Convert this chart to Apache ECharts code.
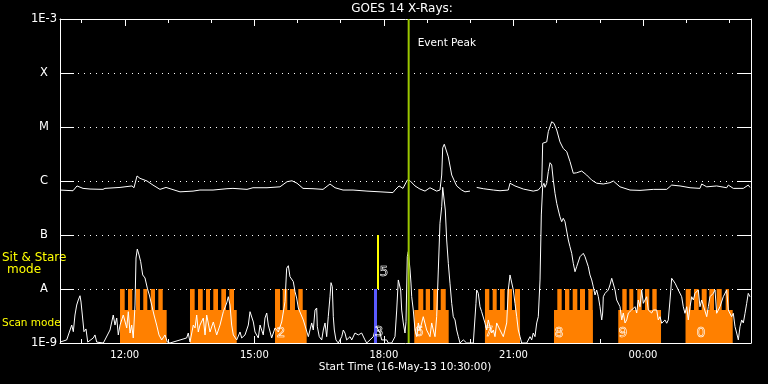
<!DOCTYPE html>
<html><head><meta charset="utf-8">
<script src="https://cdn.jsdelivr.net/npm/echarts@6/dist/echarts.min.js"></script>
<style>html,body{margin:0;padding:0;background:#000;}#c{width:768px;height:384px;}</style>
</head><body><div id="c"></div>
<script>
// Time is in minutes after 00:00 on 16-May-13
const startTime = 630;   // 10:30
const endTime = 1590;    // 02:30 next day
const xMajorTicks = [720, 900, 1080, 1260, 1440];
const xMajorLabels = ['12:00', '15:00', '18:00', '21:00', '00:00'];
const xMinorTicks = [660, 720, 780, 840, 900, 960, 1020, 1080, 1140, 1200, 1260, 1320, 1380, 1440, 1500, 1560];
const yTickLabels = ['1E-9', 'A', 'B', 'C', 'M', 'X', '1E-3'];
const yMin = 1e-9, yMax = 1e-3;

// 1-8 A channel (W/m^2)
const longChannel = [[630,6.8e-7],[648.1,6.6e-7],[653.6,8.1e-7],[662,7.3e-7],[671.7,7.1e-7],[689.7,7.0e-7],[692.5,7.3e-7],[713.4,7.6e-7],[730,8.1e-7],[732.8,7.5e-7],[737,1.24e-6],[741.1,1.12e-6],[750.9,1.0e-6],[759.2,8.4e-7],[768.9,7.0e-7],[777.3,7.6e-7],[780,7.0e-7],[796.7,6.3e-7],[814.8,6.5e-7],[824.5,6.8e-7],[842.6,6.8e-7],[862,7.2e-7],[870.3,7.3e-7],[889.8,7.0e-7],[898.1,7.5e-7],[917.6,7.5e-7],[935.6,7.8e-7],[945.4,9.7e-7],[952.3,1.01e-6],[959.3,9.1e-7],[967.6,7.3e-7],[981.5,7.2e-7],[995.4,7.0e-7],[1005.1,8.8e-7],[1012.1,7.5e-7],[1023.2,6.8e-7],[1037.1,6.8e-7],[1056.5,6.5e-7],[1074.6,6.3e-7],[1092.6,6.1e-7],[1095.4,6.8e-7],[1101,8.1e-7],[1106.5,7.3e-7],[1112.5,1.04e-6],[1116.3,1.01e-6],[1123.2,8.1e-7],[1130.1,7.1e-7],[1137.1,6.5e-7],[1144,7.5e-7],[1153.3,6.5e-7],[1157.9,6.8e-7],[1160.3,1.29e-6],[1161.7,4.1e-6],[1163.9,4.8e-6],[1169.5,2.8e-6],[1174.2,1.29e-6],[1181.1,8.1e-7],[1188.1,6.8e-7],[1192.6,6.3e-7],[1199.6,6.5e-7],[1204,null],[1208.9,7.6e-7],[1218.1,7.2e-7],[1232,6.8e-7],[1241.3,6.6e-7],[1252.8,6.8e-7],[1255.2,9.1e-7],[1262.1,8.1e-7],[1273.7,7.1e-7],[1287.5,6.5e-7],[1294.5,6.8e-7],[1299.2,8.1e-7],[1300.6,5.0e-6],[1306.2,5.3e-6],[1308.4,8.2e-6],[1313.1,1.25e-5],[1316.3,1.17e-5],[1320.1,8.8e-6],[1324.6,5.3e-6],[1329.2,4.0e-6],[1334,3.5e-6],[1338.5,2.3e-6],[1343.1,1.39e-6],[1347.8,1.42e-6],[1354.8,1.53e-6],[1361.7,1.29e-6],[1368.7,1.04e-6],[1375.6,9.1e-7],[1384.8,8.8e-7],[1394.1,9.3e-7],[1398.7,1.0e-6],[1408,7.8e-7],[1421.9,6.8e-7],[1435.8,6.7e-7],[1454.3,7.0e-7],[1472.9,7.0e-7],[1479.8,8.4e-7],[1491.4,8.1e-7],[1505.3,7.5e-7],[1519.1,7.3e-7],[1521.5,8.8e-7],[1528.5,7.8e-7],[1542.3,8.1e-7],[1556.2,7.5e-7],[1558.5,8.4e-7],[1565.4,7.3e-7],[1579.3,7.3e-7],[1586.2,8.4e-7],[1588.6,7.6e-7]];

// 0.5-4 A channel (W/m^2)
const shortChannel = [[630,1.04e-9],[639.3,1.14e-9],[646.3,2.15e-9],[648.5,1.62e-9],[650.8,3.3e-9],[653.2,5.05e-9],[655.4,6.26e-9],[657.8,7.5e-9],[659.2,5.74e-9],[661,3.3e-9],[663.3,1.62e-9],[666.1,1.82e-9],[668.5,1.04e-9],[676.3,1.24e-9],[678.6,1.41e-9],[681,1.04e-9],[690.2,1e-9],[699.5,1.74e-9],[704,3.3e-9],[706.4,2.15e-9],[708.8,2.9e-9],[711,1.41e-9],[713.4,2.15e-9],[717.9,3.3e-9],[722.7,1.9e-9],[724.9,3.8e-9],[727.3,1.53e-9],[729.6,2.15e-9],[731.8,1.24e-9],[734.2,5.05e-9],[735.6,3.75e-8],[737.4,5.5e-8],[739.8,4.26e-8],[742.1,3.2e-8],[744.9,1.82e-8],[748.1,1.6e-8],[751.3,1.04e-8],[754.1,7.74e-9],[757.4,5.05e-9],[760.6,3.3e-9],[764.3,2.15e-9],[767.5,1.41e-9],[771.3,1.14e-9],[775.9,1.41e-9],[779.1,1.04e-9],[782.8,1e-9],[806,1.24e-9],[808.2,1.53e-9],[810.6,1.04e-9],[815.2,2.15e-9],[817.6,1.9e-9],[819.9,3.3e-9],[822.1,1.6e-9],[824.5,2.15e-9],[829.1,2.9e-9],[831.5,1.41e-9],[833.8,3.3e-9],[838.4,1.6e-9],[843,2.45e-9],[847.7,1.41e-9],[852.3,2.15e-9],[856.9,3.8e-9],[861.6,5.5e-9],[863.8,7.2e-9],[866.2,5.05e-9],[868.5,2.15e-9],[870.8,1.41e-9],[875.5,1.14e-9],[880.1,1.6e-9],[882.4,1.24e-9],[887,1.41e-9],[891.6,2.15e-9],[894,3.8e-9],[896.3,3.91e-9],[898.6,2.45e-9],[900.9,1.6e-9],[905.5,1.24e-9],[907.9,2.15e-9],[912.4,1.41e-9],[914.8,2.9e-9],[917.2,3.59e-9],[919.4,2.15e-9],[924.1,1.24e-9],[928.7,1.9e-9],[933.3,1.6e-9],[938,2.45e-9],[942.6,5.82e-9],[944.9,2.42e-8],[947.2,2.7e-8],[949.5,1.69e-8],[954.1,1.37e-8],[956.5,8.91e-9],[958.8,6.81e-9],[961.1,4.45e-9],[963.4,3.75e-9],[968,2.67e-9],[975,1.31e-9],[977.3,1.74e-9],[979.7,2.35e-9],[981.9,1.74e-9],[984.3,4.08e-9],[986.6,4.45e-9],[987.5,2e-9],[990.2,1.31e-9],[993.6,1.14e-9],[995.8,1.74e-9],[998.2,2.35e-9],[1000.5,1.31e-9],[1002.7,3.07e-9],[1005.1,7.2e-9],[1006.5,1.31e-8],[1008.3,1.1e-8],[1009.7,3.07e-9],[1011.1,1.74e-9],[1013.4,1.14e-9],[1016.6,1e-9],[1021.4,1.31e-9],[1023.6,1.74e-9],[1025.9,1.53e-9],[1028.3,1.14e-9],[1032.9,1.31e-9],[1035.3,1.14e-9],[1039.8,1.53e-9],[1044.4,1.41e-9],[1046.8,1.31e-9],[1049.1,1.53e-9],[1053.7,1.14e-9],[1056.1,1e-9],[1060.7,1.14e-9],[1065.3,1.31e-9],[1067.6,1.74e-9],[1070,2e-9],[1072.2,1.74e-9],[1074.6,1.53e-9],[1076.9,1.14e-9],[1079.2,1.06e-9],[1083.9,1.14e-9],[1086.1,1e-9],[1090.8,1e-9],[1095.4,1.31e-9],[1097.8,4.08e-9],[1100,1.47e-8],[1101.4,1.51e-8],[1103.3,9.58e-9],[1104.7,4.08e-9],[1106.9,2.35e-9],[1109.3,1.53e-9],[1110.7,2.48e-9],[1112.5,3.96e-8],[1113.9,4.91e-8],[1116.3,2.25e-8],[1117.6,1.29e-8],[1118.6,7.2e-9],[1120.8,4.08e-9],[1123.2,1.74e-9],[1125.6,1.31e-9],[1127.8,2.35e-9],[1130.1,1.74e-9],[1134.7,3.07e-9],[1139.4,1.74e-9],[1144,1.31e-9],[1146.4,2.35e-9],[1148.6,1.74e-9],[1151,1.31e-9],[1153.3,3.07e-9],[1155.6,2.25e-8],[1157.9,1.65e-7],[1160.3,3.34e-7],[1161.7,7.64e-7],[1163.5,7.84e-7],[1165.3,2.9e-7],[1167.2,8.08e-8],[1169.5,2.99e-8],[1171.8,1.28e-8],[1174.2,5.43e-9],[1176.4,3.07e-9],[1178.8,2.67e-9],[1181.1,1.74e-9],[1183.4,1.31e-9],[1185.7,1e-9],[1190.3,1.14e-9],[1192.6,1.24e-9],[1195,1e-9],[1204.2,1e-9],[1207.9,5.43e-9],[1208.9,9.58e-9],[1211.1,8.32e-9],[1213.5,4.7e-9],[1215.8,3.8e-9],[1218.1,3.59e-9],[1220.4,2.35e-9],[1222.8,1.74e-9],[1225,2.67e-9],[1227.4,2e-9],[1229.8,1.53e-9],[1232,1.74e-9],[1234.3,1.31e-9],[1236.7,2.35e-9],[1241.3,1.74e-9],[1245.9,1.31e-9],[1250.6,2.35e-9],[1252.8,9.58e-9],[1255.2,1.82e-8],[1257.5,1.69e-8],[1259.8,9.58e-9],[1262.1,5.43e-9],[1264.5,3.07e-9],[1266.7,1.74e-9],[1269.1,1.31e-9],[1271.4,1e-9],[1278.4,1e-9],[1283,1.31e-9],[1285.3,1.14e-9],[1287.5,1.53e-9],[1289.9,1.31e-9],[1292.3,2.35e-9],[1294.5,3.07e-9],[1296.9,1.47e-8],[1298.7,2.35e-7],[1300.6,8.08e-7],[1302.4,9.07e-7],[1303.8,7.64e-7],[1306.2,9.07e-7],[1308.4,1.49e-6],[1310.8,2.18e-6],[1313.1,1.98e-6],[1315.3,1.04e-6],[1317.7,5.92e-7],[1320.1,3.86e-7],[1322.3,2.9e-7],[1324.6,2.18e-7],[1327,1.76e-7],[1329.2,2.04e-7],[1331.6,1.76e-7],[1333.9,1.65e-7],[1336.2,8.08e-8],[1338.5,6.07e-8],[1340.9,4.58e-8],[1343.1,2.99e-8],[1345.5,2.09e-8],[1347.8,2.59e-8],[1352.4,3.96e-8],[1357,4.58e-8],[1359.4,3.96e-8],[1364,2.59e-8],[1366.3,1.82e-8],[1368.7,1.47e-8],[1370.9,1.1e-8],[1373.3,7.74e-9],[1375.6,9.58e-9],[1377.9,7.2e-9],[1380.2,4.7e-9],[1382.6,2.67e-9],[1383.9,3.59e-9],[1384.8,7.2e-9],[1387.2,8.32e-9],[1391.7,9.58e-9],[1394.1,1.19e-8],[1396.5,1.58e-8],[1398.7,1.47e-8],[1401.1,9.58e-9],[1403.4,6.26e-9],[1408,4.7e-9],[1410.4,2.67e-9],[1412.6,3.59e-9],[1415,2.35e-9],[1417.3,2.67e-9],[1419.6,3.59e-9],[1424.2,4.08e-9],[1428.8,4.7e-9],[1431.2,3.59e-9],[1433.4,6.26e-9],[1435.8,4.7e-9],[1438.1,9.58e-9],[1440.4,5.43e-9],[1445.1,7.2e-9],[1447.3,4.08e-9],[1449.7,3.8e-9],[1452,3.59e-9],[1454.3,4.08e-9],[1459,4.08e-9],[1461.2,2.67e-9],[1463.6,3.07e-9],[1465.9,2.32e-9],[1470.5,2.67e-9],[1472.9,2.32e-9],[1475.1,2.67e-9],[1477.5,6.26e-9],[1479.8,1.58e-8],[1482.1,1.51e-8],[1484.5,1.28e-8],[1486.8,1.28e-8],[1489,9.58e-9],[1493.7,7.2e-9],[1495.9,4.7e-9],[1498.3,3.55e-9],[1500.7,4.7e-9],[1502.9,2.67e-9],[1505.3,4.7e-9],[1507.6,7.2e-9],[1509.9,6.26e-9],[1512.2,8.32e-9],[1516.8,9.58e-9],[1519.1,4.7e-9],[1521.5,6.26e-9],[1528.5,3.07e-9],[1530.7,4.7e-9],[1533,7.2e-9],[1537.6,8.32e-9],[1540,9.58e-9],[1542.3,3.55e-9],[1546.9,4.7e-9],[1551.5,7.2e-9],[1556.2,9.58e-9],[1558.5,4.08e-9],[1563.1,3.07e-9],[1565.4,3.55e-9],[1567.8,2e-9],[1570.1,1.53e-9],[1572.4,1.14e-9],[1574.7,2e-9],[1577.1,2.67e-9],[1579.3,2.35e-9],[1581.7,3.55e-9],[1584,5.43e-9],[1586.2,8.32e-9],[1588.6,7.2e-9]];

// Scan-mode periods: [start, end]
const scanBlocks = [[713.4,778.2],[810.6,875.5],[928.7,972.7],[1122.2,1170.0],[1220.4,1269.1],[1316.3,1370.1],[1405.6,1465.0],[1499.3,1564.6]];
const scanTeeth = [[713.4,719.9],[724.5,730.4],[735.6,741.1],[745.7,751.3],[756.0,762.0],[766.6,772.7],
  [810.6,817.1],[821.7,828.3],[832.8,838.4],[843.0,849.5],[854.1,860.6],[865.2,871.7],
  [928.7,935.7],[939.4,945.8],[949.5,956.5],[961.1,967.2],
  [1127.8,1134.7],[1138.1,1144.0],[1148.6,1155.2],[1158.9,1165.9],
  [1220.4,1226.4],[1231.1,1236.7],[1241.3,1247.8],[1251.4,1258.0],[1262.1,1269.1],
  [1320.9,1327.0],[1331.6,1337.6],[1342.3,1348.7],[1352.4,1359.4],[1364.0,1370.1],
  [1411.2,1417.3],[1420.9,1426.5],[1432.0,1438.1],[1442.7,1448.7],[1452.9,1459.0],
  [1499.3,1506.2],[1510.8,1517.3],[1521.5,1528.4],[1532.1,1538.6],[1542.3,1549.3],[1554.8,1559.4]];
const scanBaseLevel = 4.1e-9;
const scanTopLevel = 1e-8;
// Sit & stare indicator bars: [start, end, low, high]
const scanModeBar = [[1066.2, 1070.4, 1e-9, 1e-8]];
const stareModeBar = [[1070.4, 1073.2, 1e-8, 1e-7]];
// Numbers drawn at the blocks: [text, time, level]
const blockNumbers = [['2',937.0,1.53e-9],['3',1073.2,1.6e-9],['5',1080.1,2.07e-8],['6',1128.8,1.6e-9],['7',1226.0,1.6e-9],['8',1323.3,1.53e-9],['9',1412.2,1.53e-9],['0',1520.5,1.53e-9]];
const eventPeakTime = 1114.4;

const FONT = 'DejaVu Sans';
const ORANGE = '#ff8000';

const chart = echarts.init(document.getElementById('c'), null, {renderer: 'canvas'});

function rectRender(color) {
  return function (params, api) {
    const p0 = api.coord([api.value(0), api.value(3)]);
    const p1 = api.coord([api.value(1), api.value(2)]);
    return {type: 'rect', shape: {x: p0[0], y: p0[1], width: p1[0] - p0[0], height: p1[1] - p0[1]},
      style: {fill: color}};
  };
}

const tickAxis = (pos, ticks, len, showLine, labels) => ({
  type: 'value', position: pos, min: startTime, max: endTime,
  axisLine: {show: showLine, onZero: false, lineStyle: {color: '#fff', width: 1}},
  axisTick: {show: true, inside: true, length: len, customValues: ticks, lineStyle: {color: '#fff', width: 1}},
  axisLabel: labels ? {show: true, customValues: xMajorTicks, color: '#fff', fontFamily: FONT, fontSize: 10, margin: 7,
    formatter: v => xMajorLabels[xMajorTicks.indexOf(Math.round(v))] || ''} : {show: false},
  splitLine: {show: false}
});

const yAxisBase = (pos, labels) => ({
  type: 'log', logBase: 10, min: yMin, max: yMax, position: pos,
  axisLine: {show: true, lineStyle: {color: '#fff', width: 1}},
  axisTick: {show: true, inside: true, length: 14, lineStyle: {color: '#fff', width: 1}},
  axisLabel: labels ? {show: true, color: '#fff', fontFamily: FONT, fontSize: 11.5, align: 'center', margin: 16,
    formatter: v => yTickLabels[Math.round(Math.log10(v)) + 9]} : {show: false},
  splitLine: {show: labels, lineStyle: {color: '#fff', width: 1, type: [1, 5]}},
  minorTick: {show: false}
});

chart.setOption({
  backgroundColor: '#000',
  animation: false,
  grid: {left: 60, right: 17, top: 19, bottom: 41, containLabel: false},
  xAxis: [
    tickAxis('bottom', xMajorTicks, 7, true, true),
    tickAxis('bottom', xMinorTicks, 4, false, false),
    tickAxis('top', xMajorTicks, 7, true, false),
    tickAxis('top', xMinorTicks, 4, false, false)
  ],
  yAxis: [yAxisBase('left', true), yAxisBase('right', false)],
  graphic: [
    {type: 'text', x: 402, y: 3, style: {text: 'GOES 14 X-Rays:', fill: '#fff', font: '12px ' + FONT, align: 'center', verticalAlign: 'top'}},
    {type: 'text', x: 405, y: 362, style: {text: 'Start Time (16-May-13 10:30:00)', fill: '#fff', font: '10.5px ' + FONT, align: 'center', verticalAlign: 'top'}},
    {type: 'text', x: 2, y: 252, style: {text: 'Sit & Stare', fill: '#ffff00', font: '12px ' + FONT, align: 'left', verticalAlign: 'top'}},
    {type: 'text', x: 24, y: 264, style: {text: 'mode', fill: '#ffff00', font: '12px ' + FONT, align: 'center', verticalAlign: 'top'}},
    {type: 'text', x: 2, y: 318, style: {text: 'Scan mode', fill: '#ffff00', font: '10.5px ' + FONT, align: 'left', verticalAlign: 'top'}}
  ],
  series: [
    {type: 'custom', name: 'scanBase', renderItem: rectRender(ORANGE), z: 1, silent: true,
      encode: {x: [0, 1], y: [2, 3]},
      data: scanBlocks.map(b => [b[0], b[1], yMin, scanBaseLevel])},
    {type: 'custom', name: 'scanTeeth', renderItem: rectRender(ORANGE), z: 1, silent: true,
      encode: {x: [0, 1], y: [2, 3]},
      data: scanTeeth.map(b => [b[0], b[1], yMin, scanTopLevel])},
    {type: 'line', name: '1-8 A', data: longChannel, showSymbol: false, connectNulls: false, z: 3,
      lineStyle: {color: '#fff', width: 1}, itemStyle: {color: '#fff'}},
    {type: 'line', name: '0.5-4 A', data: shortChannel, showSymbol: false, z: 3,
      lineStyle: {color: '#fff', width: 1}, itemStyle: {color: '#fff'}},
    {type: 'custom', name: 'scanBar', renderItem: rectRender('#5a5aff'), z: 4, silent: true,
      encode: {x: [0, 1], y: [2, 3]}, data: scanModeBar},
    {type: 'custom', name: 'stareBar', renderItem: rectRender('#ffff00'), z: 4, silent: true,
      encode: {x: [0, 1], y: [2, 3]}, data: stareModeBar},
    {type: 'custom', name: 'numbers', z: 5, silent: true, encode: {x: 1, y: 2},
      data: blockNumbers,
      renderItem: function (params, api) {
        const p = api.coord([api.value(1), api.value(2)]);
        return {type: 'text', x: p[0], y: p[1], style: {text: blockNumbers[params.dataIndex][0],
          fill: 'rgba(0,0,0,0)', stroke: '#fff', lineWidth: 0.6, font: '14px ' + FONT, align: 'center', verticalAlign: 'middle'}};
      }},
    {type: 'custom', name: 'eventPeak', z: 6, silent: true, encode: {x: 0, y: 1},
      data: [[eventPeakTime, yMax]],
      renderItem: function (params, api) {
        const top = api.coord([api.value(0), yMax]);
        const bot = api.coord([api.value(0), yMin]);
        return {type: 'group', children: [
          {type: 'line', shape: {x1: top[0], y1: top[1], x2: bot[0], y2: bot[1]}, style: {stroke: '#9bc800', lineWidth: 2}},
          {type: 'text', x: top[0] + 9, y: top[1] + 19, style: {text: 'Event Peak', fill: '#fff', font: '10.5px ' + FONT, align: 'left', verticalAlign: 'top'}}
        ]};
      }}
  ]
});
</script></body></html>
